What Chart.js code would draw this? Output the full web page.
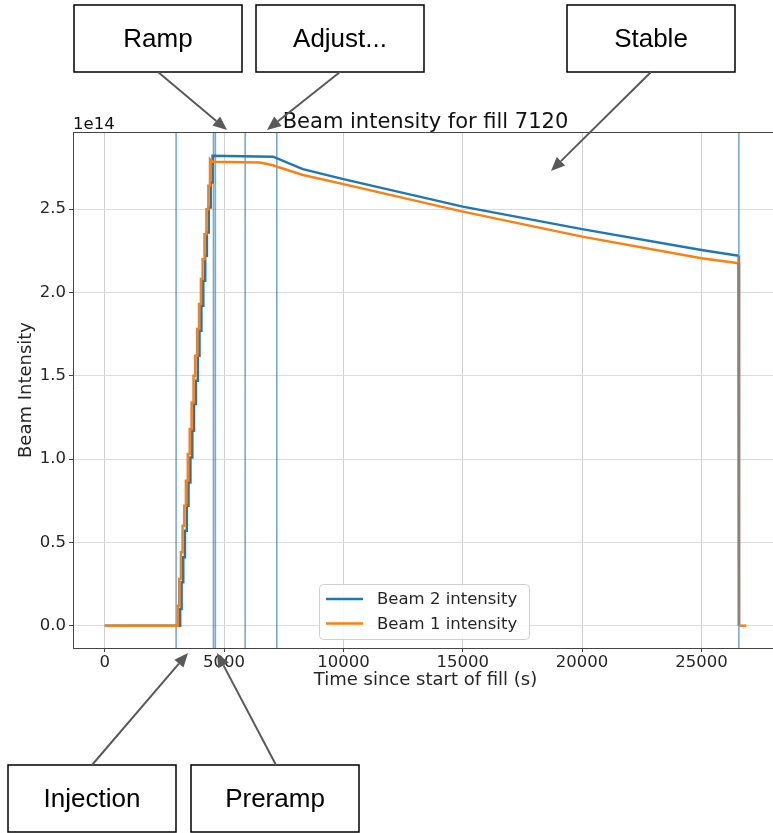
<!DOCTYPE html>
<html>
<head>
<meta charset="utf-8">
<title>Beam intensity for fill 7120</title>
<script src="https://cdn.jsdelivr.net/npm/chart.js@4.4.1/dist/chart.umd.min.js"></script>
<style>
    html, body { margin: 0; padding: 0; background: #fff; overflow: hidden; }
    #wrap { position: relative; width: 779px; height: 833px; }
</style>
</head>
<body>
<div id="wrap"><canvas id="beamChart" width="779" height="833"></canvas></div>
<script>
// intensities are in units of 1e14 protons
const xTicks = [0, 5000, 10000, 15000, 20000, 25000];
const yTicks = [0, 0.5, 1.0, 1.5, 2.0, 2.5];

// beam mode changes (s)
const phaseTimes = [2990, 4555, 4635, 5885, 7210, 26570];

// injection staircase: time of each injection and intensity after it
const beam1InjTimes = [3060, 3120, 3190, 3260, 3330, 3400, 3480, 3560, 3640, 3720, 3790, 3870, 3950, 4030, 4100, 4180, 4260, 4340, 4410];
const beam1InjLevels = [0.12, 0.28, 0.44, 0.60, 0.72, 0.87, 1.03, 1.18, 1.34, 1.50, 1.62, 1.78, 1.93, 2.08, 2.20, 2.35, 2.50, 2.64, 2.80];
const beam2InjTimes = [3160, 3220, 3290, 3360, 3440, 3510, 3590, 3670, 3740, 3820, 3900, 3970, 4050, 4130, 4210, 4280, 4360, 4440, 4520];
const beam2InjLevels = [0.10, 0.26, 0.41, 0.57, 0.72, 0.86, 1.01, 1.17, 1.33, 1.47, 1.62, 1.77, 1.92, 2.07, 2.22, 2.36, 2.51, 2.66, 2.82];

// after injection: plateau, stable beams decay, dump
const beam1Times = [4530, 6500, 7000, 8300, 10000, 15000, 20000, 25000, 26560, 26575, 26880];
const beam1Values = [2.785, 2.78, 2.765, 2.705, 2.65, 2.485, 2.335, 2.205, 2.175, 0, 0];
const beam2Times = [7050, 8300, 10000, 15000, 20000, 25000, 26560, 26575];
const beam2Values = [2.815, 2.74, 2.68, 2.515, 2.38, 2.255, 2.22, 0];

const annotations = [
    { text: "Ramp", box: [74, 5, 168, 67], from: [158, 72], to: [227, 130] },
    { text: "Adjust...", box: [256, 5, 168, 67], from: [340, 72], to: [267, 130] },
    { text: "Stable", box: [567, 5, 168, 67], from: [651, 72], to: [551, 171] },
    { text: "Injection", box: [8, 765, 168, 67], from: [92, 765], to: [188, 653] },
    { text: "Preramp", box: [191, 765, 168, 67], from: [276, 765], to: [217, 653] },
];

function buildSeries(injTimes, injLevels, times, values) {
    const pts = [{ x: 0, y: 0 }];
    let prev = 0;
    for (let i = 0; i < injTimes.length; i++) {
        pts.push({ x: injTimes[i], y: prev });
        pts.push({ x: injTimes[i], y: injLevels[i] });
        prev = injLevels[i];
    }
    for (let i = 0; i < times.length; i++) {
        pts.push({ x: times[i], y: values[i] });
    }
    return pts;
}

const dropColor = "#8a8177";
const dumpSegment = {
    borderColor: (ctx) => (ctx.p0.parsed.y > 1 && ctx.p1.parsed.y === 0 ? dropColor : undefined),
};

const FONT = "'DejaVu Sans', sans-serif";
Chart.defaults.font.family = FONT;
Chart.defaults.color = "#262626";

const overlay = {
    id: "overlay",
    beforeDatasetsDraw(chart) {
        const { ctx, chartArea: a, scales } = chart;
        ctx.save();
        ctx.beginPath();
        ctx.rect(a.left, a.top, a.right - a.left, a.bottom - a.top);
        ctx.clip();
        ctx.strokeStyle = "rgba(31,119,180,0.62)";
        ctx.lineWidth = 1.6;
        phaseTimes.forEach((t) => {
            const px = scales.x.getPixelForValue(t);
            ctx.beginPath();
            ctx.moveTo(px, a.top);
            ctx.lineTo(px, a.bottom);
            ctx.stroke();
        });
        ctx.restore();
    },
    afterDraw(chart) {
        const { ctx, chartArea: a } = chart;
        ctx.save();

        // top spine
        ctx.strokeStyle = "#444";
        ctx.lineWidth = 1;
        ctx.beginPath();
        ctx.moveTo(a.left, a.top + 0.5);
        ctx.lineTo(a.right, a.top + 0.5);
        ctx.stroke();

        // title and offset text
        ctx.fillStyle = "#111";
        ctx.textBaseline = "alphabetic";
        ctx.font = "21px " + FONT;
        ctx.textAlign = "center";
        ctx.fillText("Beam intensity for fill 7120", (a.left + a.right) / 2, 128);
        ctx.font = "16.5px " + FONT;
        ctx.textAlign = "left";
        ctx.fillText("1e14", a.left, 129);

        // legend
        const lx = 319, ly = 584, lw = 210, lh = 55;
        ctx.fillStyle = "rgba(255,255,255,0.85)";
        ctx.strokeStyle = "#d0d0d0";
        ctx.lineWidth = 1;
        ctx.beginPath();
        ctx.roundRect(lx + 0.5, ly + 0.5, lw, lh, 4);
        ctx.fill();
        ctx.stroke();
        ctx.font = "16.5px " + FONT;
        ctx.textBaseline = "middle";
        chart.data.datasets.forEach((ds, i) => {
            const y = ly + 15 + i * 24.5;
            ctx.strokeStyle = ds.borderColor;
            ctx.lineWidth = 2.5;
            ctx.beginPath();
            ctx.moveTo(lx + 7, y);
            ctx.lineTo(lx + 44, y);
            ctx.stroke();
            ctx.fillStyle = "#262626";
            ctx.fillText(ds.label, lx + 58, y + 1);
        });

        // phase annotations
        annotations.forEach((an) => {
            const [bx, by, bw, bh] = an.box;
            ctx.fillStyle = "#fff";
            ctx.strokeStyle = "#000";
            ctx.lineWidth = 1.5;
            ctx.fillRect(bx, by, bw, bh);
            ctx.strokeRect(bx, by, bw, bh);
            ctx.fillStyle = "#000";
            ctx.font = "26px 'Liberation Sans', Arial, sans-serif";
            ctx.textAlign = "center";
            ctx.textBaseline = "middle";
            ctx.fillText(an.text, bx + bw / 2, by + bh / 2 + 1);

            const [x0, y0] = an.from, [x1, y1] = an.to;
            const ang = Math.atan2(y1 - y0, x1 - x0);
            const head = 14, half = 6;
            ctx.strokeStyle = "#595959";
            ctx.fillStyle = "#595959";
            ctx.lineWidth = 2;
            ctx.beginPath();
            ctx.moveTo(x0, y0);
            ctx.lineTo(x1 - Math.cos(ang) * head, y1 - Math.sin(ang) * head);
            ctx.stroke();
            ctx.beginPath();
            ctx.moveTo(x1, y1);
            ctx.lineTo(x1 - Math.cos(ang) * head - Math.sin(ang) * half, y1 - Math.sin(ang) * head + Math.cos(ang) * half);
            ctx.lineTo(x1 - Math.cos(ang) * head + Math.sin(ang) * half, y1 - Math.sin(ang) * head - Math.cos(ang) * half);
            ctx.closePath();
            ctx.fill();
        });
        ctx.restore();
    },
};

new Chart(document.getElementById("beamChart"), {
    type: "line",
    data: {
        datasets: [
            {
                label: "Beam 2 intensity",
                data: buildSeries(beam2InjTimes, beam2InjLevels, beam2Times, beam2Values),
                borderColor: "#1f77b4",
                order: 1,
                segment: dumpSegment,
            },
            {
                label: "Beam 1 intensity",
                data: buildSeries(beam1InjTimes, beam1InjLevels, beam1Times, beam1Values),
                borderColor: "#ff7f0e",
                order: 0,
                segment: dumpSegment,
            },
        ],
    },
    options: {
        responsive: false,
        animation: false,
        devicePixelRatio: 1,
        parsing: false,
        elements: {
            line: { borderWidth: 2.5, tension: 0, fill: false, borderCapStyle: "butt" },
            point: { radius: 0, hoverRadius: 0 },
        },
        layout: { padding: { top: 132, left: 0, right: 1, bottom: 125 } },
        plugins: {
            legend: { display: false },
            title: { display: false },
            tooltip: { enabled: false },
        },
        scales: {
            x: {
                type: "linear",
                min: -1330,
                max: 28210,
                afterFit: (scale) => { scale.height = 60; },
                afterBuildTicks: (scale) => { scale.ticks = xTicks.map((v) => ({ value: v })); },
                ticks: {
                    font: { size: 16.5 },
                    color: "#262626",
                    padding: 1,
                    maxRotation: 0,
                    callback: (v) => String(v),
                },
                grid: { color: "#d0d0d0", lineWidth: 1, tickColor: "#444", tickLength: 4 },
                border: { display: true, color: "#444", width: 1 },
                title: {
                    display: true,
                    text: "Time since start of fill (s)",
                    font: { size: 18 },
                    color: "#262626",
                    padding: { top: 0, bottom: 17 },
                },
            },
            y: {
                type: "linear",
                min: -0.134,
                max: 2.963,
                afterFit: (scale) => { scale.width = 73; },
                afterBuildTicks: (scale) => { scale.ticks = yTicks.map((v) => ({ value: v })); },
                ticks: {
                    font: { size: 16.5 },
                    color: "#262626",
                    padding: 3,
                    callback: (v) => v.toFixed(1),
                },
                grid: { color: "#dcdcdc", lineWidth: 1, tickColor: "#444", tickLength: 4 },
                border: { display: true, color: "#444", width: 1 },
                title: {
                    display: true,
                    text: "Beam Intensity",
                    font: { size: 18 },
                    color: "#262626",
                    padding: { top: 16, bottom: 0 },
                },
            },
        },
    },
    plugins: [overlay],
});
</script>
</body>
</html>
